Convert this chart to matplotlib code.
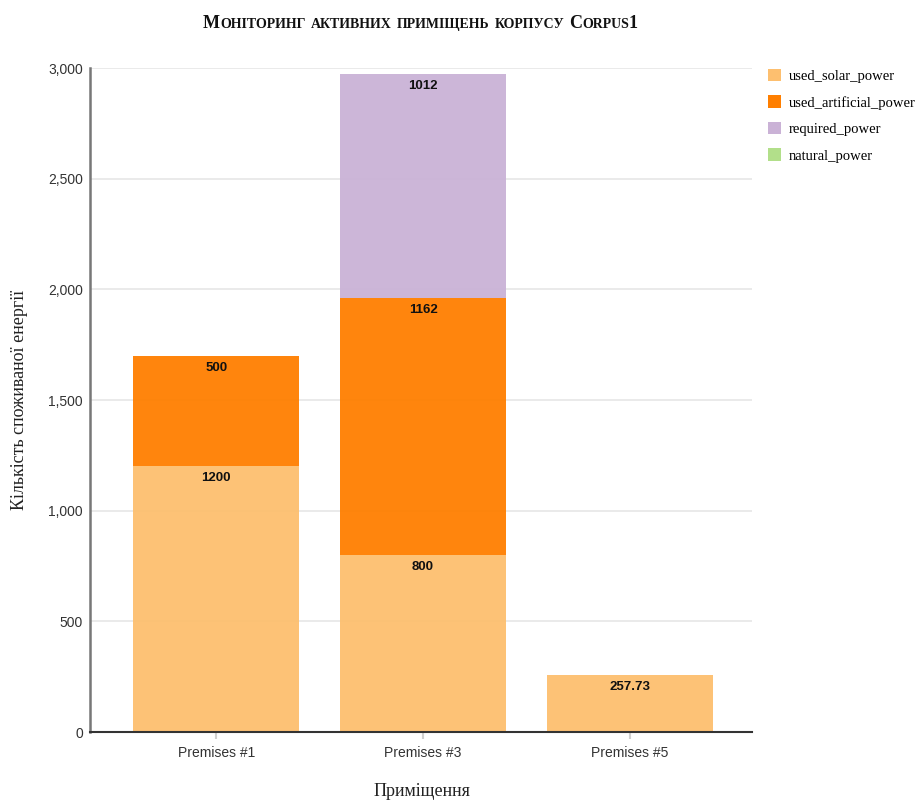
import numpy as np
import matplotlib
matplotlib.use("Agg")
import matplotlib.pyplot as plt
from matplotlib.patches import Patch
from matplotlib.ticker import FuncFormatter, MultipleLocator

# Дані по приміщеннях
premises = ["Premises #1", "Premises #3", "Premises #5"]
used_solar_power = [1200, 800, 257.73]
used_artificial_power = [500, 1162, 0]
required_power = [0, 1012, 0]
natural_power = [0, 0, 0]

series_names = ["used_solar_power", "used_artificial_power", "required_power", "natural_power"]
series_values = [used_solar_power, used_artificial_power, required_power, natural_power]
series_colors = ["#fdbf6f", "#ff7f00", "#cab2d6", "#b2df8a"]

W, H = 918, 801
fig = plt.figure(figsize=(W / 100, H / 100), dpi=100)
ax = fig.add_axes([90 / W, 1 - 732 / H, (752 - 90) / W, (732 - 68) / H])

x = np.arange(len(premises))
bottom = np.zeros(len(premises))
for name, vals, color in zip(series_names, series_values, series_colors):
    vals = np.array(vals, dtype=float)
    ax.bar(x, vals, bottom=bottom, width=0.8, color=color, alpha=0.95,
           zorder=2, linewidth=0)
    for xi, v, b in zip(x, vals, bottom):
        if v > 0:
            ax.annotate(f"{v:g}", (xi, b + v), xytext=(0, -12),
                        textcoords="offset pixels", ha="center", va="center",
                        fontsize=9.5, fontweight="bold", color="#111111",
                        family="Liberation Sans", zorder=3)
    bottom += vals

ax.set_xlim(-0.61, 2.59)
ax.set_ylim(0, 3000)
ax.yaxis.set_major_locator(MultipleLocator(500))
ax.yaxis.set_major_formatter(FuncFormatter(lambda v, p: f"{int(v):,}"))
ax.set_xticks(x)
ax.set_xticklabels(premises)
ax.grid(axis="y", color="#e6e6e6", linewidth=1.2, zorder=0)
ax.set_axisbelow(True)

for s in ["top", "right"]:
    ax.spines[s].set_visible(False)
ax.spines["left"].set_color("#777777")
ax.spines["left"].set_linewidth(1.8)
ax.spines["bottom"].set_color("#333333")
ax.spines["bottom"].set_linewidth(1.5)

ax.tick_params(axis="y", length=0, pad=5, labelsize=10, labelcolor="#333333")
ax.tick_params(axis="x", length=5, width=1.5, color="#d0d0d0", pad=5,
               labelsize=10, labelcolor="#333333")
for lab in ax.get_xticklabels() + ax.get_yticklabels():
    lab.set_family("Liberation Sans")

# Підписи осей
fig.text(20 / W, 1 - 400 / H, "Кількість споживаної енергії", rotation=90,
         ha="center", va="center", fontsize=13, family="Liberation Serif",
         color="#222222")
fig.text(422 / W, 1 - 791 / H, "Приміщення", ha="center", va="center",
         fontsize=13, family="Liberation Serif", color="#222222")

# Легенда
handles = [Patch(facecolor=c, edgecolor="none") for c in series_colors]
fig.legend(handles, series_names, loc="upper left",
           bbox_to_anchor=(768 / W, 1 - 69 / H), frameon=False,
           prop={"family": "Liberation Serif", "size": 10.5},
           handlelength=0.9, handleheight=0.9, handletextpad=0.5,
           labelspacing=0.85, borderaxespad=0, borderpad=0)


# Заголовок капітеллю: великі літери більшим кеглем, малі — меншим
def small_caps_title(text, cx, base_y, big=13, small=10):
    renderer = fig.canvas.get_renderer()
    pieces = []
    for word in text.split(" "):
        runs = []
        for ch in word:
            sz = small if ch.islower() else big
            if runs and runs[-1][1] == sz:
                runs[-1][0] += ch.upper()
            else:
                runs.append([ch.upper(), sz])
        pieces.append(runs)
    texts = []
    for runs in pieces:
        wt = []
        for s, sz in runs:
            t = fig.text(0, 0, s, fontsize=sz, fontweight="bold",
                         family="Liberation Serif", va="baseline", ha="left",
                         color="#111111")
            wt.append((t, t.get_window_extent(renderer).width))
        texts.append(wt)
    gap, space = 0.5, 5.0
    widths = [sum(w for _, w in wt) + gap * (len(wt) - 1) for wt in texts]
    total = sum(widths) + space * (len(texts) - 1)
    px = cx - total / 2
    for wt in texts:
        for t, w in wt:
            if t.get_text().isdigit():
                px -= 1.5
            t.set_position((px / W, 1 - base_y / H))
            px += w + gap
        px += space - gap


small_caps_title("Моніторинг активних приміщень корпусу Corpus1", 421, 28)

fig.savefig("out.png", dpi=100)
